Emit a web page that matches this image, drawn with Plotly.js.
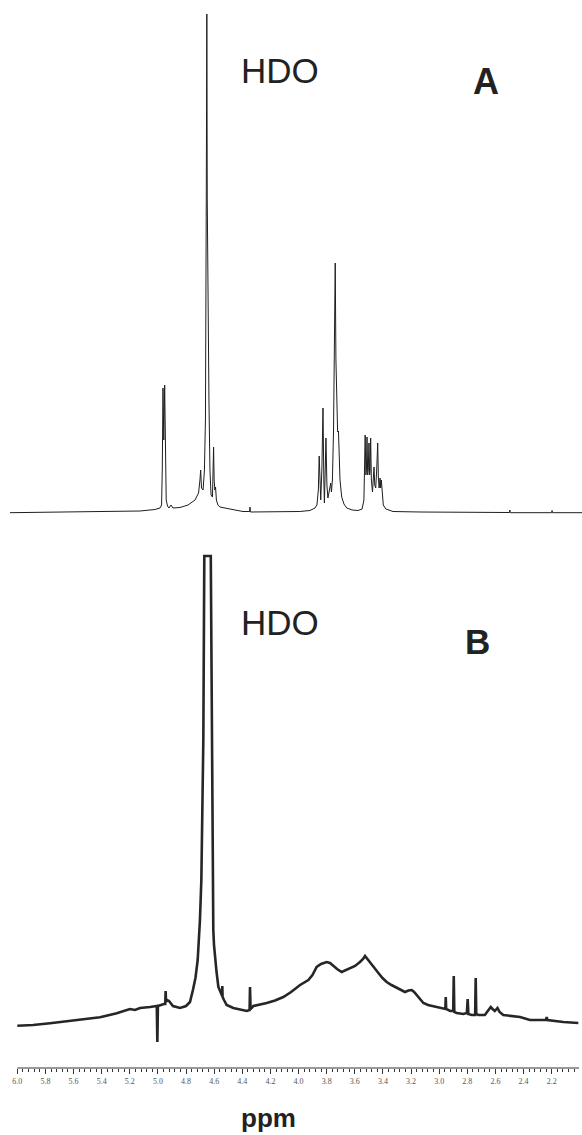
<!DOCTYPE html>
<html>
<head>
<meta charset="utf-8">
<script src="https://cdn.plot.ly/plotly-3.0.1.min.js"></script>
<style>
html,body{margin:0;padding:0;background:#fff;}
#chart{width:582px;height:1135px;}
</style>
</head>
<body>
<div id="chart"></div>
<script>
// Spectrum A (chemical shift, ppm / intensity, a.u.)
const aPpm = [6.052,5.411,5.127,5.021,4.985,4.974,4.969,4.964,4.958,4.952,4.947,4.941,4.932,4.921,4.907,4.893,4.843,4.786,4.736,4.711,4.701,4.696,4.690,4.679,4.669,4.662,4.656,4.652,4.649,4.645,4.642,4.637,4.630,4.622,4.612,4.607,4.604,4.600,4.595,4.590,4.584,4.573,4.559,4.488,4.395,4.348,4.345,4.342,4.204,3.991,3.919,3.883,3.869,3.859,3.853,3.847,3.842,3.834,3.826,3.820,3.816,3.810,3.805,3.798,3.791,3.780,3.771,3.766,3.759,3.751,3.746,3.739,3.734,3.728,3.722,3.716,3.711,3.705,3.693,3.677,3.657,3.619,3.577,3.548,3.535,3.530,3.526,3.521,3.517,3.513,3.508,3.504,3.499,3.494,3.491,3.487,3.482,3.474,3.469,3.463,3.458,3.451,3.444,3.437,3.432,3.427,3.420,3.416,3.411,3.405,3.397,3.379,3.328,3.136,2.802,2.500,2.497,2.494,2.200,2.197,2.194,1.984];
const aInt = [0.3,1,2,3.5,5,8,43,125,73,128,53,13,7,5,8,5,5.5,8,13,20,33,43,25,23,43,93,313,499,313,213,243,113,43,18,16,43,66,33,23,26,13,8,6,4,1.5,1.5,6,1,1,1.5,2.5,5,8,23,57,23,13,43,105,33,10,43,75,28,15,23,30,21,33,83,173,250,153,93,81,82,58,33,16,9,5,3,2.5,4,13,43,78,38,43,76,38,43,70,38,43,75,33,21,33,46,28,25,43,70,35,25,35,25,33,16,8,4,1.5,1,0.5,0.5,3,0.3,0.3,2.5,0.3,0.3];

// Spectrum B (chemical shift, ppm / intensity, a.u.; HDO peak off scale)
const bPpm = [6.000,5.888,5.767,5.647,5.533,5.412,5.293,5.234,5.199,5.163,5.127,5.056,5.021,5.008,5.004,5.000,4.957,4.948,4.945,4.942,4.935,4.921,4.893,4.843,4.800,4.772,4.751,4.733,4.717,4.708,4.701,4.691,4.683,4.677,4.672,4.670,4.624,4.622,4.617,4.613,4.606,4.601,4.594,4.583,4.570,4.555,4.545,4.543,4.542,4.540,4.530,4.511,4.464,4.368,4.348,4.345,4.341,4.321,4.226,4.167,4.108,4.053,3.989,3.930,3.901,3.871,3.840,3.800,3.776,3.753,3.726,3.693,3.662,3.634,3.598,3.563,3.541,3.527,3.509,3.492,3.463,3.432,3.403,3.373,3.339,3.302,3.271,3.243,3.218,3.195,3.178,3.159,3.136,3.112,3.079,3.041,2.970,2.956,2.953,2.950,2.921,2.900,2.896,2.892,2.875,2.828,2.803,2.797,2.792,2.768,2.744,2.740,2.736,2.721,2.675,2.645,2.633,2.620,2.604,2.585,2.570,2.544,2.480,2.425,2.354,2.240,2.235,2.230,2.117,2.010];
const bInt = [42.3,43,44.7,46.5,48.7,50.7,54.7,57,59,58,60,61,62,62,26,62,64,64,77,66,68,67,62,60,62,66,78,90,108,125,148,188,268,328,460,512,512,460,328,188,138,123,111,96,81,75,72,72,82,71,68,63,60,57,58,81,59,62,65,67.5,71,76,83,88,93,101,104,106,105,102,99,96,98,100,102,106,109,112,109,106,101,95,90,86,83,80,78,76,77.5,78,76,73,69,65,63,62,60,59,71,59,57,57,92,56,55,54,55,69,54,53,53,90,54,53,53,58,61,59,57,60,56,53,52,51,48,48,51,48,46,45];

// Axis ticks (ppm)
const majorTicks = [6.0,5.8,5.6,5.4,5.2,5.0,4.8,4.6,4.4,4.2,4.0,3.8,3.6,3.4,3.2,3.0,2.8,2.6,2.4,2.2];
const tickLabels = majorTicks.map(v => v.toFixed(1));
const minorTicks = [];
for (let i = 0; i <= 99; i++) minorTicks.push(+(6.0 - i * 0.04).toFixed(2));

if (aPpm.length !== aInt.length || bPpm.length !== bInt.length) console.error('length mismatch', aPpm.length, aInt.length, bPpm.length, bInt.length);

const H = 1068; // plot-area height in px (for paper fractions)
const py = p => (H - p) / H;
const px = p => p / 582;

const traces = [
  {x: bPpm, y: bInt, type: 'scatter', mode: 'lines', xaxis: 'x', yaxis: 'y',
   line: {color: '#262626', width: 2.6}, hoverinfo: 'skip'},
  {x: aPpm, y: aInt, type: 'scatter', mode: 'lines', xaxis: 'x', yaxis: 'y2',
   line: {color: '#1e1e1e', width: 1}, hoverinfo: 'skip'}
];

const layout = {
  width: 582, height: 1135,
  margin: {l: 0, r: 0, t: 0, b: 67, pad: 0},
  paper_bgcolor: '#fff', plot_bgcolor: '#fff',
  showlegend: false,
  xaxis: {
    range: [6.123, 1.984], anchor: 'y',
    showline: false, showgrid: false, zeroline: false,
    tickmode: 'array', tickvals: majorTicks, ticktext: tickLabels,
    ticks: 'outside', ticklen: 5, tickwidth: 1, tickcolor: '#333',
    tickfont: {family: 'Liberation Serif, serif', size: 8, color: '#555'},
    minor: {tickmode: 'array', tickvals: minorTicks, ticks: 'outside', ticklen: 3, tickwidth: 1, tickcolor: '#333', showgrid: false}
  },
  yaxis: {domain: [0, py(554)], range: [0, 514], visible: false, fixedrange: true},
  yaxis2: {domain: [py(530), 1], range: [-17, 513], visible: false, fixedrange: true},
  shapes: [
    {type: 'line', xref: 'x', yref: 'paper', x0: 6.0, x1: 2.005, y0: 0, y1: 0,
     line: {color: '#777', width: 1.5}}
  ],
  annotations: [
    {text: 'HDO', xref: 'paper', yref: 'paper', x: px(280), y: py(70), showarrow: false,
     xanchor: 'center', yanchor: 'middle', font: {family: 'Liberation Sans, Arial', size: 35, color: '#222'}},
    {text: '<b>A</b>', xref: 'paper', yref: 'paper', x: px(485.5), y: py(81.5), showarrow: false,
     xanchor: 'center', yanchor: 'middle', font: {family: 'Liberation Sans, Arial', size: 36, color: '#222'}},
    {text: 'HDO', xref: 'paper', yref: 'paper', x: px(280), y: py(623), showarrow: false,
     xanchor: 'center', yanchor: 'middle', font: {family: 'Liberation Sans, Arial', size: 35, color: '#222'}},
    {text: '<b>B</b>', xref: 'paper', yref: 'paper', x: px(477), y: py(641), showarrow: false,
     xanchor: 'center', yanchor: 'middle', font: {family: 'Liberation Sans, Arial', size: 35, color: '#222'}},
    {text: '<b>ppm</b>', xref: 'paper', yref: 'paper', x: px(268), y: py(1118), showarrow: false,
     xanchor: 'center', yanchor: 'middle', font: {family: 'Liberation Sans, Arial', size: 26, color: '#222'}}
  ]
};

Plotly.newPlot('chart', traces, layout, {staticPlot: true, displayModeBar: false});
</script>
</body>
</html>
